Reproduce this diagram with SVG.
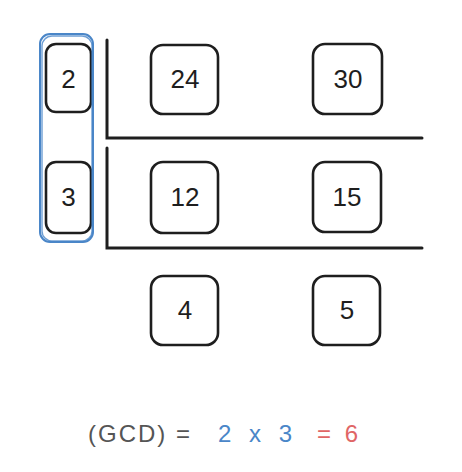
<svg xmlns="http://www.w3.org/2000/svg" width="462" height="472" viewBox="0 0 462 472">
<style>
.box{fill:#fff;stroke:#1e1e1e;stroke-width:2.6;}
.num{font-family:"Liberation Sans",sans-serif;font-size:26px;fill:#1e1e1e;text-anchor:middle;dominant-baseline:central;}
.line{stroke:#1e1e1e;stroke-width:3;stroke-linecap:round;fill:none;}
.eq{font-family:"Liberation Sans",sans-serif;font-size:24px;dominant-baseline:central;}
</style>
<rect width="462" height="472" fill="#fff"/>
<g id="connectors">
<path class="line" d="M107,40 L107,138 L422,138"/>
<path class="line" d="M107,148 L107,248 L422,248"/>
</g>
<g id="node-2"><rect class="box" x="46" y="44" width="45" height="68" rx="10"/><text class="num" x="68.5" y="79">2</text></g>
<g id="node-3"><rect class="box" x="46" y="162" width="45" height="71" rx="10"/><text class="num" x="68.5" y="197">3</text></g>
<g id="group-factors">
<rect x="40" y="34" width="53" height="208" rx="10" fill="none" stroke="#4a86c8" stroke-width="2"/>
<rect x="42" y="36" width="50" height="205" rx="10" fill="none" stroke="#4a86c8" stroke-width="1.4" opacity="0.8"/>
</g>
<g id="node-24"><rect class="box" x="151" y="45" width="67" height="69" rx="12"/><text class="num" x="185" y="79">24</text></g>
<g id="node-30"><rect class="box" x="313" y="44" width="69" height="70" rx="12"/><text class="num" x="348" y="79">30</text></g>
<g id="node-12"><rect class="box" x="151" y="162" width="67" height="71" rx="12"/><text class="num" x="185" y="197">12</text></g>
<g id="node-15"><rect class="box" x="313" y="162" width="68" height="70" rx="12"/><text class="num" x="347" y="197">15</text></g>
<g id="node-4"><rect class="box" x="151" y="276" width="67" height="69" rx="12"/><text class="num" x="185" y="310">4</text></g>
<g id="node-5"><rect class="box" x="313" y="276" width="67" height="69" rx="12"/><text class="num" x="347" y="310">5</text></g>
<g id="formula">
<text class="eq" x="88" y="433" fill="#555" textLength="102">(GCD) =</text>
<text class="eq" x="218" y="433" fill="#4a86c8" textLength="74">2 x 3</text>
<text class="eq" x="317" y="433" fill="#e06666" textLength="41">= 6</text>
</g>
</svg>
